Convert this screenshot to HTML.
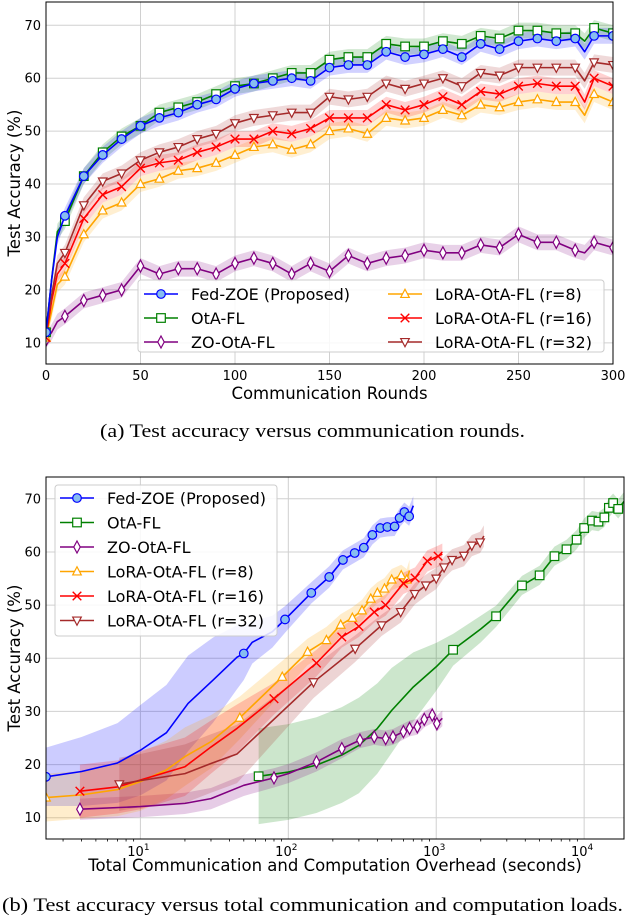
<!DOCTYPE html>
<html><head><meta charset="utf-8"><style>
body{margin:0;background:#fff;}
svg{display:block;font-family:"DejaVu Sans","Liberation Sans",sans-serif;}
.cap{font-family:"Liberation Serif",serif;font-size:19px;}
</style></head><body>
<svg id="fig" width="626" height="916" viewBox="0 0 626 916" xmlns="http://www.w3.org/2000/svg"></svg>
<script>
// ---------- Plot (a) data ----------
const roundsA = [0,3,6,10,20,30,40,50,60,70,80,90,100,110,120,130,140,150,160,170,180,190,200,210,220,230,240,250,260,270,280,285,290,300];
const fedA   = [12,22,30,34,41.5,45.5,48.5,51,52.5,53.5,55,56,58,59,59.5,60,59.5,62,62.5,62.5,65,64,64.5,65.5,64,66.5,65.5,67,67.5,67,67.5,65,68,68];
const otaA   = [12,22,31,33,41.5,46,49,51,53.5,54.5,55.5,57,58.5,59,60,61,61,63.5,64,64,66.5,66,66,67,66.5,68,67.5,69,69,68.5,68.5,67,69.5,68.5];
const zoA    = [10.5,12,14,15,18,19,20,24.5,23,24,24,23,25,26,25,23,25,23.5,26.5,25,26,26.5,27.5,27,27,28.5,28,30.5,29,29,27.5,27,29,28];
const r8A    = [11,16,21,22.5,30.5,35,36.5,40,41,42.5,43,44,45.5,47,47.5,46.5,47.5,50,50.5,49.5,52.5,52,52.5,54,53,55,54.5,55.5,56,55.5,55.5,53,57,55.5];
const r16A   = [11,18,23,25,33.5,38,39.5,43,44,44.5,46,47,48.5,48.5,50,49.5,50.5,52.5,52.5,52.5,55,54,55,56.5,55,57.5,57,58.5,59,58.5,58.5,55.5,60,58.5];
const r32A   = [12,19,25,27,36,40.5,42,44.5,46,47,48.5,49.5,51.5,52.5,53,53.5,53.5,56.5,56,56.5,59,58,59,60,58.5,61,60.5,62,62,62,62,59.5,63,62.5];
const xTicksA = [0,50,100,150,200,250,300];
const yTicks = [10,20,30,40,50,60,70];

// ---------- Plot (b) data ----------
const fedBx = [2.3,4,7,10,15,21,31,45,50,57,78,95,143,189,234,281,324,370,418,467,523,565,609,656,700];
const fedBy = [17.7,18.7,20.3,22.7,26,31.5,35.9,40.2,40.9,43,45,47.3,52.3,55.3,58.5,59.8,60.8,63.2,64.5,64.7,64.8,66.4,67.5,66.7,68.7];
const fedBw = [5.5,6.5,7.5,8.5,9,9,8,6,5,4,3,2.5,2,2,1.8,1.8,1.8,1.8,1.8,1.8,1.8,1.8,1.8,1.8,1.8];
const fedMx = [2.3,50,95,143,189,234,281,324,370,418,467,523,565,609,656];
const fedMy = [17.7,40.9,47.3,52.3,55.3,58.5,59.8,60.8,63.2,64.5,64.7,64.8,66.4,67.5,66.7];

const otaBx = [63,100,155,230,300,400,500,700,1000,1300,2000,2540,3800,5000,6300,7600,8900,10000,11300,12500,13700,14700,15700,17000,18600];
const otaBy = [17.8,18.6,19.9,21.8,23.6,26.8,30.2,34.6,38.4,41.6,45.5,47.9,53.7,55.6,59.2,60.5,62.3,64.5,65.9,65.7,66.5,68.3,69.2,68.1,69.5];
const otaBw = [9,9,9,9,9,8.5,8,6.5,4.5,3,2.5,2,1.8,1.8,1.8,1.8,1.8,1.8,1.8,1.8,1.8,1.8,1.8,1.8,1.8];
const otaMx = [63,1300,2540,3800,5000,6300,7600,8900,10000,11300,12500,13700,14700,15700,17000];
const otaMy = [17.8,41.6,47.9,53.7,55.6,59.2,60.5,62.3,64.5,65.9,65.7,66.5,68.3,69.2,68.1];

const zoBx = [3.9,10,20,30,50,80,100,155,230,305,381,455,510,600,660,745,830,940,1010,1100];
const zoBy = [11.6,12.1,12.7,13.6,16.1,17.5,18.3,20.5,23,24.6,25.2,24.9,25.2,26.2,26.8,27.1,28.5,29.3,27.7,28.7];
const zoBw = [2,2,2,2,2,1.8,1.8,1.8,1.8,1.5,1.5,1.5,1.5,1.5,1.5,1.5,1.5,1.5,1.5,1.5];
const zoMx = [3.9,80,155,230,305,381,455,510,600,660,745,830,940,1010];
const zoMy = [11.6,17.5,20.5,23,24.6,25.2,24.9,25.2,26.2,26.8,27.1,28.5,29.3,27.7];

const r8Bx = [2.3,4,7,10,15,20,30,47,91,135,181,226,271,315,361,400,447,500,580,632,660];
const r8By = [13.8,14.3,15.3,16.8,19,21.5,24.3,28.8,36.5,41.2,43.4,46.3,47.6,49,51.2,52.3,53.1,54.8,55.6,54.8,56.5];
const r8Bw = [4.5,4.5,5,5.5,5.5,5.5,5,4,3,2.5,2.5,2,2,2,2,2,2,2,2,2,2];
const r8Mx = [2.3,47,91,135,181,226,271,315,361,400,447,500,580,632];
const r8My = [13.8,28.8,36.5,41.2,43.4,46.3,47.6,49,51.2,52.3,53.1,54.8,55.6,54.8];

const r16Bx = [3.9,7,10,20,30,45,80,155,230,300,381,455,600,720,870,1030,1100];
const r16By = [15,15.8,17.1,19.6,23.3,26.8,32.4,39.1,44,46,48.7,50,54.1,55.1,58.3,59.2,59.6];
const r16Bw = [5,5,5.5,5.5,5,4.5,3,2.5,2,2,2,2,2,2,2,2,2];
const r16Mx = [3.9,80,155,230,300,381,455,600,720,870,1030];
const r16My = [15,32.4,39.1,44,46,48.7,50,54.1,55.1,58.3,59.2];

const r32Bx = [7.2,10,20,30,45,148,283,427,575,715,850,1000,1130,1280,1540,1740,1980,2100];
const r32By = [16.3,17,18.3,20.2,22,35.5,41.8,46.2,48.7,52.1,53.7,55,57.1,58.5,59.3,61.2,61.8,63];
const r32Bw = [5,5,5.5,5.5,5.5,3,2.5,2,2,2,2,2,2,2,2,2,2,2];
const r32Mx = [7.2,148,283,427,575,715,850,1000,1130,1280,1540,1740,1980];
const r32My = [16.3,35.5,41.8,46.2,48.7,52.1,53.7,55,57.1,58.5,59.3,61.2,61.8];

const xTicksB = [1,2,3,4];

// ---------- helpers ----------
const NS = "http://www.w3.org/2000/svg";
const svg = document.getElementById('fig');
function mk(tag, attrs, parent){ const e=document.createElementNS(NS,tag); for(const k in attrs) e.setAttribute(k,attrs[k]); (parent||svg).appendChild(e); return e; }

const A = {l:46,r:613,t:2,b:364,xmin:0,xmax:300,ymin:6,ymax:74.4};
const B = {l:46,r:624,t:477,b:839,lmin:Math.log10(2.3),lmax:Math.log10(18600),ymin:6,ymax:74.1};
const xA = v => A.l + (v-A.xmin)/(A.xmax-A.xmin)*(A.r-A.l);
const yA = v => A.b - (v-A.ymin)/(A.ymax-A.ymin)*(A.b-A.t);
const xB = v => B.l + (Math.log10(v)-B.lmin)/(B.lmax-B.lmin)*(B.r-B.l);
const yB = v => B.b - (v-B.ymin)/(B.ymax-B.ymin)*(B.b-B.t);

function marker(g, shape, cx, cy, color, fill){
  const s=4.3;
  let e;
  if(shape==='o'){ e=mk('circle',{cx,cy,r:s,fill,stroke:color,'stroke-width':1.2},g); }
  else if(shape==='s'){ e=mk('rect',{x:cx-s,y:cy-s,width:2*s,height:2*s,fill,stroke:color,'stroke-width':1.2},g); }
  else if(shape==='d'){ e=mk('polygon',{points:`${cx},${cy-s*1.4} ${cx+s*0.75},${cy} ${cx},${cy+s*1.4} ${cx-s*0.75},${cy}`,fill,stroke:color,'stroke-width':1.2},g); }
  else if(shape==='^'){ e=mk('polygon',{points:`${cx},${cy-s*1.1} ${cx+s},${cy+s*0.8} ${cx-s},${cy+s*0.8}`,fill,stroke:color,'stroke-width':1.2},g); }
  else if(shape==='v'){ e=mk('polygon',{points:`${cx},${cy+s*1.1} ${cx+s},${cy-s*0.8} ${cx-s},${cy-s*0.8}`,fill,stroke:color,'stroke-width':1.2},g); }
  else { e=mk('path',{d:`M${cx-s} ${cy-s}L${cx+s} ${cy+s}M${cx-s} ${cy+s}L${cx+s} ${cy-s}`,stroke:color,'stroke-width':1.4,fill:'none'},g); }
  return e;
}

function axesFrame(P, name){
  const g = mk('g',{});
  
  
  return g;
}

const series = [
  {key:'fed',color:'#0000ff',shape:'o',fill:'#87bdf0',label:'Fed-ZOE (Proposed)'},
  {key:'ota',color:'#008000',shape:'s',fill:'#ffffff',label:'OtA-FL'},
  {key:'zo',color:'#800080',shape:'d',fill:'#ffffff',label:'ZO-OtA-FL'},
  {key:'r8',color:'#ffa500',shape:'^',fill:'#ffffff',label:'LoRA-OtA-FL (r=8)'},
  {key:'r16',color:'#ff0000',shape:'x',fill:'none',label:'LoRA-OtA-FL (r=16)'},
  {key:'r32',color:'#a52a2a',shape:'v',fill:'#ffffff',label:'LoRA-OtA-FL (r=32)'}
];

// ===== Plot A =====
(function(){
  const g = axesFrame(A,'plot-a');
  mk('defs',{}).innerHTML = `<clipPath id="clipA"><rect x="${A.l}" y="${A.t}" width="${A.r-A.l}" height="${A.b-A.t}"/></clipPath><clipPath id="clipB"><rect x="${B.l}" y="${B.t}" width="${B.r-B.l}" height="${B.b-B.t}"/></clipPath>`;
  const grid = mk('g',{stroke:'#d0d0d0','stroke-width':1},g);
  
  
  xTicksA.forEach(v=>{ mk('line',{x1:xA(v),x2:xA(v),y1:A.t,y2:A.b},grid);
    const t=mk('text',{x:xA(v),y:A.b+16,'text-anchor':'middle','font-size':13,fill:'#000'},g); t.textContent=v;
      });
  yTicks.forEach(v=>{ mk('line',{x1:A.l,x2:A.r,y1:yA(v),y2:yA(v)},grid);
    const t=mk('text',{x:A.l-5,y:yA(v)+4.5,'text-anchor':'end','font-size':13,fill:'#000'},g); t.textContent=v;
      });
  const data = {fed:fedA,ota:otaA,zo:zoA,r8:r8A,r16:r16A,r32:r32A};
  const plot = mk('g',{'clip-path':'url(#clipA)'},g);
  const order=['zo','r8','r16','r32','ota','fed'];
  order.forEach(k=>{
    const s=series.find(q=>q.key===k); const ys=data[k];
    const up=roundsA.map((r,i)=>`${xA(r)},${yA(ys[i]+1.5)}`);
    const dn=roundsA.map((r,i)=>`${xA(r)},${yA(ys[i]-1.5)}`).reverse();
    const band=mk('polygon',{points:up.concat(dn).join(' '),fill:s.color,'fill-opacity':0.18,stroke:'none'},plot);
     
  });
  order.forEach(k=>{
    const s=series.find(q=>q.key===k); const ys=data[k];
    const ln=mk('polyline',{points:roundsA.map((r,i)=>`${xA(r)},${yA(ys[i])}`).join(' '),fill:'none',stroke:s.color,'stroke-width':1.6,'stroke-linejoin':'round'},plot);
     
    roundsA.forEach((r,i)=>{ if(r%10===0){ const m=marker(plot,s.shape,xA(r),yA(ys[i]),s.color,s.fill);
        } });
  });
  const fr=mk('rect',{x:A.l,y:A.t,width:A.r-A.l,height:A.b-A.t,fill:'none',stroke:'#000','stroke-width':1},g);
   
  const xl=mk('text',{x:(A.l+A.r)/2,y:399,'text-anchor':'middle','font-size':16.5},g); xl.textContent='Communication Rounds';
   
  const yl=mk('text',{x:0,y:0,'text-anchor':'middle','font-size':16.5,transform:`translate(20,${(A.t+A.b)/2}) rotate(-90)`},g); yl.textContent='Test Accuracy (%)';
   
  const lg=mk('g',{},g);
   
  mk('rect',{x:138,y:280,width:466,height:72,rx:3,fill:'#fff','fill-opacity':0.85,stroke:'#ccc'},lg);
  series.forEach((s,i)=>{
    const col=i<3?0:1, row=i%3;
    const x0=col?388:144, y0=294+row*24;
    const e=mk('g',{},lg);
     
    mk('line',{x1:x0,x2:x0+34,y1:y0,y2:y0,stroke:s.color,'stroke-width':1.6},e);
    marker(e,s.shape,x0+17,y0,s.color,s.fill);
    const t=mk('text',{x:x0+47,y:y0+6,'font-size':16},e); t.textContent=s.label;
  });
})();

// ===== Plot B =====
(function(){
  const g = axesFrame(B,'plot-b');
  const grid = mk('g',{stroke:'#d0d0d0','stroke-width':1},g);
   
  xTicksB.forEach(p=>{ const X=xB(Math.pow(10,p)); mk('line',{x1:X,x2:X,y1:B.t,y2:B.b},grid);
    const t=mk('text',{x:X-2,y:B.b+17,'text-anchor':'middle','font-size':13},g);
    t.innerHTML=`10<tspan dy="-6" font-size="9">${p}</tspan>`;
      });
  const minor=mk('g',{stroke:'#000','stroke-width':0.8},g);
  for(let p=0;p<=4;p++) for(let m=2;m<=9;m++){ const v=m*Math.pow(10,p); if(v<2.3||v>18600) continue;
    mk('line',{x1:xB(v),x2:xB(v),y1:B.b,y2:B.b+2.5},minor); }
  yTicks.forEach(v=>{ mk('line',{x1:B.l,x2:B.r,y1:yB(v),y2:yB(v)},grid);
    const t=mk('text',{x:B.l-5,y:yB(v)+4.5,'text-anchor':'end','font-size':13},g); t.textContent=v;
      });
  const D={fed:[fedBx,fedBy,fedBw,fedMx,fedMy],ota:[otaBx,otaBy,otaBw,otaMx,otaMy],zo:[zoBx,zoBy,zoBw,zoMx,zoMy],
    r8:[r8Bx,r8By,r8Bw,r8Mx,r8My],r16:[r16Bx,r16By,r16Bw,r16Mx,r16My],r32:[r32Bx,r32By,r32Bw,r32Mx,r32My]};
  const plot = mk('g',{'clip-path':'url(#clipB)'},g);
  const order=['fed','ota','zo','r8','r16','r32'];
  order.forEach(k=>{
    const s=series.find(q=>q.key===k); const [xs,ys,ws]=D[k];
    const up=xs.map((x,i)=>`${xB(x)},${yB(ys[i]+ws[i])}`);
    const dn=xs.map((x,i)=>`${xB(x)},${yB(ys[i]-ws[i])}`).reverse();
    const band=mk('polygon',{points:up.concat(dn).join(' '),fill:s.color,'fill-opacity':0.2,stroke:'none'},plot);
     
  });
  order.forEach(k=>{
    const s=series.find(q=>q.key===k); const [xs,ys,ws,mx,my]=D[k];
    const ln=mk('polyline',{points:xs.map((x,i)=>`${xB(x)},${yB(ys[i])}`).join(' '),fill:'none',stroke:s.color,'stroke-width':1.6,'stroke-linejoin':'round'},plot);
     
    mx.forEach((x,i)=>{ const m=marker(plot,s.shape,xB(x),yB(my[i]),s.color,s.fill);
        });
  });
  const fr=mk('rect',{x:B.l,y:B.t,width:B.r-B.l,height:B.b-B.t,fill:'none',stroke:'#000','stroke-width':1},g);
   
  const xl=mk('text',{x:335,y:871,'text-anchor':'middle','font-size':16.5},g); xl.textContent='Total Communication and Computation Overhead (seconds)';
   
  const yl=mk('text',{x:0,y:0,'text-anchor':'middle','font-size':16.5,transform:`translate(20,${(B.t+B.b)/2}) rotate(-90)`},g); yl.textContent='Test Accuracy (%)';
   
  const lg=mk('g',{},g);
   
  mk('rect',{x:55,y:485,width:222,height:151,rx:3,fill:'#fff','fill-opacity':0.85,stroke:'#ccc'},lg);
  series.forEach((s,i)=>{
    const x0=60, y0=498+i*24.5;
    const e=mk('g',{},lg);
     
    mk('line',{x1:x0,x2:x0+34,y1:y0,y2:y0,stroke:s.color,'stroke-width':1.6},e);
    marker(e,s.shape,x0+17,y0,s.color,s.fill);
    const t=mk('text',{x:x0+47,y:y0+6,'font-size':16},e); t.textContent=s.label;
  });
})();

// captions
const c1=mk('text',{x:100,y:437,class:'cap',textLength:425,lengthAdjust:'spacingAndGlyphs'}); c1.textContent='(a) Test accuracy versus communication rounds.';
 
const c2=mk('text',{x:2,y:911,class:'cap',textLength:621,lengthAdjust:'spacingAndGlyphs'}); c2.textContent='(b) Test accuracy versus total communication and computation loads.';
 
</script>
</body></html>
